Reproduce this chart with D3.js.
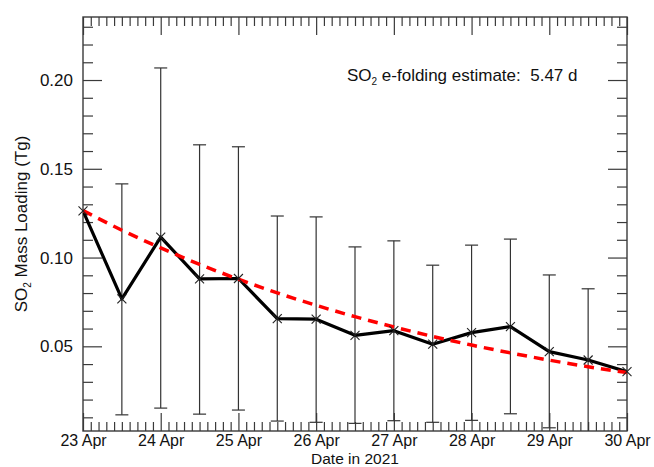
<!DOCTYPE html>
<html><head><meta charset="utf-8">
<script src="https://cdn.jsdelivr.net/npm/d3@7"></script>
<style>html,body{margin:0;padding:0;background:#fff}</style>
</head><body>
<svg id="chart" width="654" height="467"></svg>
<script>
// ---- data ----
const dateStrings = ["2021-04-23 00:00","2021-04-23 12:00","2021-04-24 00:00","2021-04-24 12:00",
  "2021-04-25 00:00","2021-04-25 12:00","2021-04-26 00:00","2021-04-26 12:00","2021-04-27 00:00",
  "2021-04-27 12:00","2021-04-28 00:00","2021-04-28 12:00","2021-04-29 00:00","2021-04-29 12:00",
  "2021-04-30 00:00"];
const so2Mass  = [0.1263,0.0767,0.1115,0.0880,0.0882,0.0656,0.0653,0.0562,0.0588,0.0512,0.0577,0.0611,0.0470,0.0423,0.0357];
const errUpper = [null,0.1415,0.2068,0.1635,0.1624,0.1234,0.1229,0.1060,0.1094,0.0957,0.1070,0.1104,0.0902,0.0824,null];
const errLower = [null,0.0114,0.0152,0.0118,0.0141,0.0079,0.0072,0.0066,0.0081,0.0072,0.0083,0.0120,0.0041,0.0000,null];
const fitValues = [0.1265,0.1154,0.1054,0.0962,0.0878,0.0801,0.0731,0.0667,0.0609,0.0556,0.0507,0.0463,0.0422,0.0385,0.0352];
const xTickDates  = ["2021-04-23","2021-04-24","2021-04-25","2021-04-26","2021-04-27","2021-04-28","2021-04-29","2021-04-30"];
const xTickLabels = ["23 Apr","24 Apr","25 Apr","26 Apr","27 Apr","28 Apr","29 Apr","30 Apr"];
const yTickValues = [0.05,0.10,0.15,0.20];
const yTickLabels = ["0.05","0.10","0.15","0.20"];
const yMinorValues = [0.01,0.02,0.03,0.04,0.06,0.07,0.08,0.09,0.11,0.12,0.13,0.14,0.16,0.17,0.18,0.19,0.21,0.22,0.23];
const yDomain = [0.0023, 0.2355];
const eFolding = "5.47";

// ---- layout ----
const parse = d3.utcParse("%Y-%m-%d %H:%M");
const parseDay = d3.utcParse("%Y-%m-%d");
const dates = dateStrings.map(parse);
const tickDates = xTickDates.map(parseDay);
const L = 83, R = 627, T = 17, B = 431;
const FONT = "Liberation Sans, Arial, sans-serif";
const AX = "#3a3a3a";

const svg = d3.select("#chart");
const x = d3.scaleUtc().domain([tickDates[0], tickDates[tickDates.length-1]]).range([L, R]);
const y = d3.scaleLinear().domain(yDomain).range([B, T]);

// minor x tick dates: every 1/10 day
const xMinor = [];
for (let i = 0; i < tickDates.length - 1; i++) {
  const t0 = +tickDates[i], t1 = +tickDates[i+1];
  for (let k = 1; k < 10; k++) xMinor.push(new Date(t0 + (t1 - t0) * k / 10));
}

const defs = svg.append("defs");
defs.append("clipPath").attr("id","clip").append("rect")
  .attr("x", L).attr("y", T).attr("width", R - L).attr("height", B - T);

function styleAxis(g) {
  g.select(".domain").remove();
  g.selectAll("line").attr("stroke", AX).attr("stroke-width", 1.2);
  g.selectAll("text").attr("font-family", FONT).attr("font-size", 17).attr("fill", "#111");
}

// bottom axis
svg.append("g").attr("transform", `translate(0,${B})`)
  .call(d3.axisBottom(x).tickValues(tickDates).tickSize(-18)
    .tickFormat((d,i) => xTickLabels[i]))
  .call(styleAxis)
  .call(g => g.selectAll("text").attr("font-size", 16).attr("dy", null).attr("y", 15));
svg.append("g").attr("transform", `translate(0,${B})`)
  .call(d3.axisBottom(x).tickValues(xMinor).tickSize(-9).tickFormat(""))
  .call(styleAxis);
// top axis
svg.append("g").attr("transform", `translate(0,${T})`)
  .call(d3.axisTop(x).tickValues(tickDates).tickSize(-18).tickFormat(""))
  .call(styleAxis);
svg.append("g").attr("transform", `translate(0,${T})`)
  .call(d3.axisTop(x).tickValues(xMinor).tickSize(-9).tickFormat(""))
  .call(styleAxis);
// left axis
svg.append("g").attr("transform", `translate(${L},0)`)
  .call(d3.axisLeft(y).tickValues(yTickValues).tickSize(-19).tickPadding(10)
    .tickFormat((d,i) => yTickLabels[i]))
  .call(styleAxis);
svg.append("g").attr("transform", `translate(${L},0)`)
  .call(d3.axisLeft(y).tickValues(yMinorValues).tickSize(-10).tickFormat(""))
  .call(styleAxis);
// right axis
svg.append("g").attr("transform", `translate(${R},0)`)
  .call(d3.axisRight(y).tickValues(yTickValues).tickSize(-19).tickFormat(""))
  .call(styleAxis);
svg.append("g").attr("transform", `translate(${R},0)`)
  .call(d3.axisRight(y).tickValues(yMinorValues).tickSize(-10).tickFormat(""))
  .call(styleAxis);

// frame
svg.append("rect").attr("x", L).attr("y", T).attr("width", R - L).attr("height", B - T)
  .attr("fill", "none").attr("stroke", AX).attr("stroke-width", 1.4);

const plot = svg.append("g").attr("clip-path", "url(#clip)");

// error bars
const idx = d3.range(dates.length).filter(i => errUpper[i] !== null);
const eb = plot.append("g").attr("stroke", "#333").attr("stroke-width", 1.2);
idx.forEach(i => {
  const cx = x(dates[i]);
  eb.append("line").attr("x1", cx).attr("x2", cx).attr("y1", y(errLower[i])).attr("y2", y(errUpper[i]));
  eb.append("line").attr("x1", cx - 6.5).attr("x2", cx + 6.5).attr("y1", y(errUpper[i])).attr("y2", y(errUpper[i]));
  eb.append("line").attr("x1", cx - 6.5).attr("x2", cx + 6.5).attr("y1", y(errLower[i])).attr("y2", y(errLower[i]));
});

// data line
plot.append("path").datum(d3.range(dates.length))
  .attr("fill", "none").attr("stroke", "#000").attr("stroke-width", 3.2).attr("stroke-linejoin", "round")
  .attr("d", d3.line().x(i => x(dates[i])).y(i => y(so2Mass[i])));

// fit line
plot.append("path").datum(d3.range(dates.length))
  .attr("fill", "none").attr("stroke", "#ff0000").attr("stroke-width", 3.5)
  .attr("stroke-dasharray", "10,7")
  .attr("d", d3.line().curve(d3.curveMonotoneX).x(i => x(dates[i])).y(i => y(fitValues[i])));

// markers
const mk = svg.append("g").attr("stroke", "#222").attr("stroke-width", 1.1);
dates.forEach((d, i) => {
  const cx = x(d), cy = y(so2Mass[i]), s = 4.5;
  mk.append("line").attr("x1", cx - s).attr("y1", cy - s).attr("x2", cx + s).attr("y2", cy + s);
  mk.append("line").attr("x1", cx - s).attr("y1", cy + s).attr("x2", cx + s).attr("y2", cy - s);
});

// annotation
const ann = svg.append("text").attr("x", 347).attr("y", 81)
  .attr("font-family", FONT).attr("font-size", 17).attr("fill", "#111")
  .style("white-space", "pre");
ann.append("tspan").text("SO");
ann.append("tspan").attr("font-size", 10).attr("dy", 4).text("2");
ann.append("tspan").attr("dy", -4).text(" e-folding estimate:  " + eFolding + " d");

// y label
const yl = svg.append("text").attr("transform", `translate(27,${(T + B) / 2}) rotate(-90)`)
  .attr("text-anchor", "middle").attr("font-family", FONT).attr("font-size", 17).attr("fill", "#111");
yl.append("tspan").text("SO");
yl.append("tspan").attr("font-size", 10).attr("dy", 4).text("2");
yl.append("tspan").attr("dy", -4).text(" Mass Loading (Tg)");

// x label
svg.append("text").attr("x", (L + R) / 2).attr("y", 463.5).attr("text-anchor", "middle")
  .attr("font-family", FONT).attr("font-size", 15.5).attr("fill", "#111").text("Date in 2021");
</script>
</body></html>
